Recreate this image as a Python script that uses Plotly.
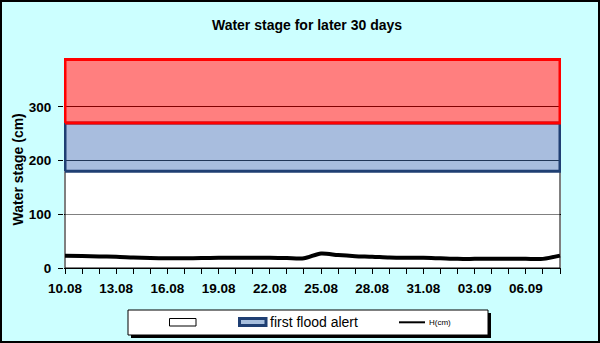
import plotly.graph_objects as go

# ---- data ----
dates = ["2023-08-10", "2023-08-11", "2023-08-12", "2023-08-13", "2023-08-14",
         "2023-08-15", "2023-08-16", "2023-08-17", "2023-08-18", "2023-08-19",
         "2023-08-20", "2023-08-21", "2023-08-22", "2023-08-23", "2023-08-24",
         "2023-08-25", "2023-08-26", "2023-08-27", "2023-08-28", "2023-08-29",
         "2023-08-30", "2023-08-31", "2023-09-01", "2023-09-02", "2023-09-03",
         "2023-09-04", "2023-09-05", "2023-09-06", "2023-09-07", "2023-09-08"]
water_level = [23, 22.5, 21.5, 21, 19.5, 18.5, 18, 18, 18.5, 19,
               19, 19, 19, 18.5, 18, 27, 24, 22, 21, 19.5,
               19, 19, 18, 17, 17, 17, 17, 17, 17, 23]
band_levels = [0, 180, 270, 388]
band_names = ["", "first flood alert", "second flood alert"]
band_fill = ["rgba(255,255,255,0.5)", "rgba(70,115,185,0.47)", "rgba(255,0,0,0.5)"]
band_legend_fill = ["white", "#A7BFDE", "#FF8080"]
band_line = ["#000000", "#1F3F73", "#FF0000"]
band_width = [1, 3, 3]
band_in_legend = [True, True, False]
line_name = "H(cm)"

# ---- layout geometry helpers ----
W, H = 600, 343
L, R, T, B = 64, 39, 58, 75
PW, PH = W - L - R, H - T - B


def px_x(px):
    return (px - L) / PW


def px_y(py):
    return (H - B - py) / PH


FONT = "Arial, Liberation Sans, sans-serif"

fig = go.Figure()

x0, x1 = dates[0], dates[-1]
for i in range(3):
    lo, hi = band_levels[i], band_levels[i + 1]
    fig.add_trace(go.Scatter(
        x=[x0, x1, x1, x0, x0], y=[lo, lo, hi, hi, lo],
        mode="lines", fill="toself", fillcolor=band_fill[i],
        line=dict(color=band_line[i], width=band_width[i]),
        name=band_names[i], showlegend=False, hoverinfo="skip"))

fig.add_trace(go.Scatter(
    x=dates, y=water_level, mode="lines", name=line_name, showlegend=False,
    line=dict(color="black", width=4, shape="spline", smoothing=0.8)))

shapes = [
    # legend shadow
    dict(type="rect", xref="paper", yref="paper",
         x0=px_x(131), x1=px_x(491), y0=px_y(338), y1=px_y(313),
         fillcolor="black", line=dict(width=0), layer="above"),
    # legend box
    dict(type="rect", xref="paper", yref="paper",
         x0=px_x(128), x1=px_x(488), y0=px_y(335), y1=px_y(310),
         fillcolor="white", line=dict(color="black", width=1), layer="above"),
    # outer frame
    dict(type="rect", xref="paper", yref="paper",
         x0=px_x(1), x1=px_x(599), y0=px_y(342), y1=px_y(1),
         fillcolor="rgba(0,0,0,0)", line=dict(color="black", width=2), layer="above"),
]
annotations = [dict(text="<b>Water stage (cm)</b>", textangle=-90, xref="paper", yref="paper",
                    x=px_x(17), y=px_y(169.5), xanchor="center", yanchor="middle",
                    showarrow=False, font=dict(size=14, family=FONT, color="black"))]

# legend entries (symbols + real text)
legend_sym_x = [(169.5, 196), (239.5, 266)]
legend_sym_y = [(318.5, 326), (318.5, 325.5)]
k = 0
for i in range(3):
    if not band_in_legend[i]:
        continue
    (sx0, sx1), (sy0, sy1) = legend_sym_x[k], legend_sym_y[k]
    shapes.append(dict(type="rect", xref="paper", yref="paper",
                       x0=px_x(sx0), x1=px_x(sx1), y0=px_y(sy1), y1=px_y(sy0),
                       fillcolor=band_legend_fill[i],
                       line=dict(color=band_line[i], width=band_width[i]), layer="above"))
    if band_names[i]:
        annotations.append(dict(text=band_names[i], xref="paper", yref="paper",
                                x=px_x(sx1 + 1.5), y=px_y(321.5), xanchor="left", yanchor="middle",
                                showarrow=False,
                                font=dict(size=14, family=FONT, color="black")))
    k += 1
shapes.append(dict(type="line", xref="paper", yref="paper",
                   x0=px_x(399), x1=px_x(425), y0=px_y(322.3), y1=px_y(322.3),
                   line=dict(color="black", width=2), layer="above"))
annotations.append(dict(text=line_name, xref="paper", yref="paper",
                        x=px_x(427), y=px_y(322.3), xanchor="left", yanchor="middle",
                        showarrow=False, font=dict(size=8, family=FONT, color="black")))

fig.update_layout(
    width=W, height=H,
    margin=dict(l=L, r=R, t=T, b=B, autoexpand=False),
    paper_bgcolor="#CCFFFF", plot_bgcolor="white",
    font=dict(family=FONT, color="black"),
    title=dict(text="Water stage for later 30 days", x=307 / W, xanchor="center",
               xref="container", yref="container", y=1 - 25 / H, yanchor="middle",
               font=dict(size=14, family=FONT, color="black", weight="bold")),
    showlegend=False,
    shapes=shapes,
    annotations=annotations,
    xaxis=dict(
        type="date", range=["2023-08-09 22:36", "2023-09-08 01:24"],
        tick0="2023-08-10", dtick=3 * 86400000, tickformat="%d.%m",
        ticks="outside", ticklen=5, tickcolor="black", tickwidth=1,
        minor=dict(dtick=86400000, tick0="2023-08-10", ticks="outside", ticklen=5,
                   tickcolor="black", tickwidth=1, showgrid=False),
        showgrid=False, showline=True, linecolor="black", linewidth=1,
        zeroline=False, tickfont=dict(size=13.5, family=FONT, color="black", weight="bold"),
        ticklabelstandoff=3, fixedrange=True),
    yaxis=dict(
        range=[0, 391], tickvals=[0, 100, 200, 300], ticks="outside", ticklen=5,
        tickcolor="black", showgrid=True, gridcolor="black", gridwidth=1,
        showline=False, zeroline=False,
        tickfont=dict(size=13.5, family=FONT, color="black", weight="bold"),
        ticklabelstandoff=4, fixedrange=True),
)

fig.write_html("out.html")
